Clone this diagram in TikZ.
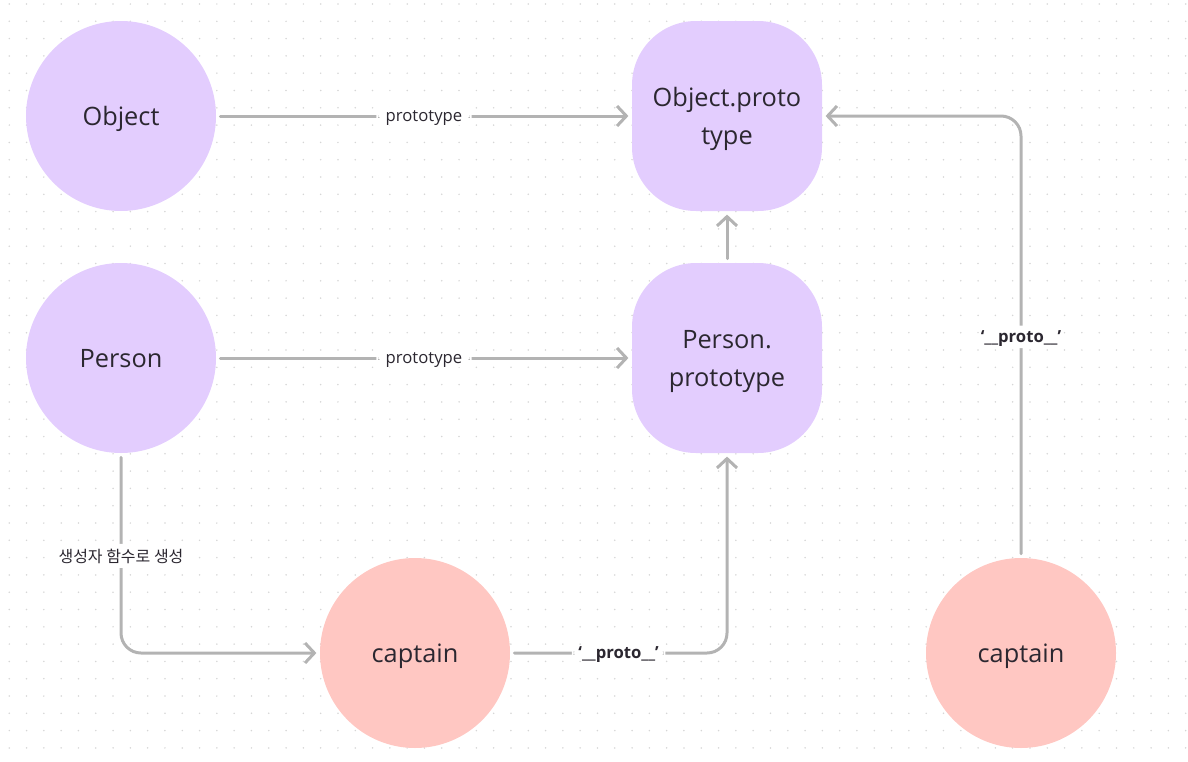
\documentclass[tikz,border=0pt]{standalone}
\usepackage{fontspec}
\setmainfont{Open Sans}
\newfontfamily\krfont{Noto Sans CJK KR}
\usetikzlibrary{arrows.meta}
\definecolor{nodepurple}{HTML}{E3CDFE}
\definecolor{nodepink}{HTML}{FFC7C2}
\definecolor{linegray}{HTML}{B3B3B3}
\definecolor{textdark}{HTML}{2B2730}
\definecolor{dotgray}{HTML}{D6D6D6}
\tikzstyle{func} = [circle, minimum size=142.5pt, text depth=0pt, fill=nodepurple, text=textdark, font=\fontsize{19}{28.5}\selectfont]
\tikzstyle{protobox} = [rectangle, rounded corners=48pt, minimum width=142.5pt, minimum height=142.5pt, text depth=0pt, fill=nodepurple, text=textdark, align=center, font=\fontsize{19}{28.5}\selectfont]
\tikzstyle{instance} = [circle, minimum size=142.5pt, text depth=0pt, fill=nodepink, text=textdark, font=\fontsize{19}{28.5}\selectfont]
\tikzstyle{arrow} = [linegray, line width=2.25pt, line cap=round, rounded corners=15pt, -{Straight Barb[length=7pt,width=15pt]}, shorten >=2.5pt, shorten <=3pt]
\tikzstyle{edgelabel} = [fill=white, text=textdark, text depth=0pt, inner xsep=7pt, inner ysep=4pt, font=\fontsize{12.5}{15}\selectfont]
\tikzstyle{protolabel} = [edgelabel, inner xsep=5pt, font=\fontsize{12.5}{15}\selectfont\bfseries]
\tikzstyle{korlabel} = [edgelabel, inner xsep=6pt, yshift=-2pt, font=\krfont\fontsize{12}{15}\selectfont]

\begin{document}
\begin{tikzpicture}[node distance=181.5pt]

        \useasboundingbox (-90.75pt,87pt) rectangle (800.25pt,-483.75pt);
        \foreach \i in {0,...,68}
            \foreach \j in {0,...,43}
                \fill [dotgray] (-83.8pt+\i*12.975pt,84pt-\j*12.975pt) circle (0.65pt);

        \node (object) [func] {Object};
        \node (person) [func, below of=object] {Person};
        \node (objproto) [protobox, right of=object, xshift=273pt] {Object.proto\\type};
        \node (personproto) [protobox, below of=objproto] {Person.\\prototype};
        \node (captain) [instance, below of=person, xshift=220.5pt, yshift=-39.75pt] {captain};
        \node (captaintwo) [instance, right of=captain, xshift=273pt] {captain};

        \draw [arrow] (object) -- (objproto) node[midway, edgelabel] {prototype};
        \draw [arrow] (person) -- (personproto) node[midway, edgelabel] {prototype};
        \draw [arrow] (personproto) -- (objproto);
        \draw [arrow] (person) |- (captain) node[pos=0.25, korlabel] {생성자 함수로 생성};
        \draw [arrow] (captain) -| (personproto) node[pos=0.25, protolabel] {‘\_\_proto\_\_’};
        \draw [arrow] (captaintwo) |- (objproto) node[pos=0.25, protolabel] {‘\_\_proto\_\_’};

    \end{tikzpicture}
\end{document}
